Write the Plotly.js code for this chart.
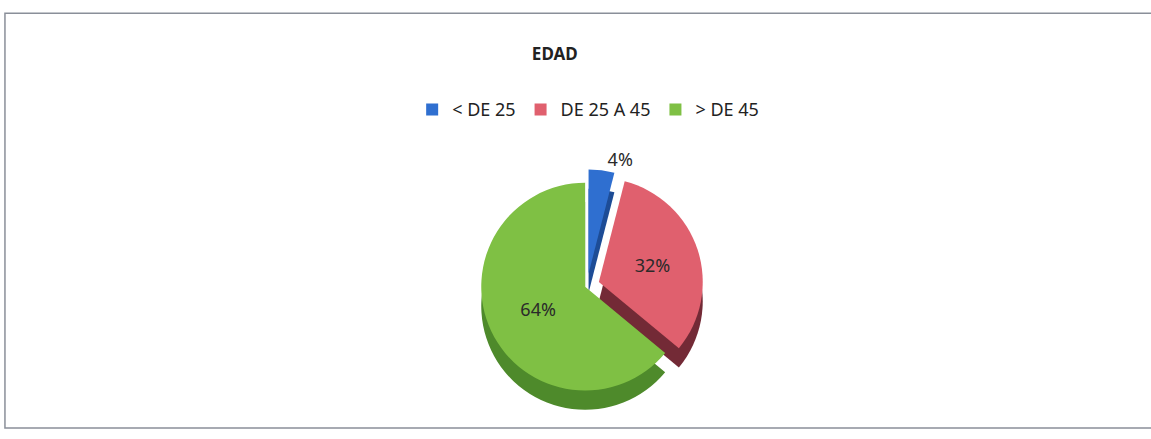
<!DOCTYPE html>
<html>
<head>
<meta charset="utf-8">
<script src="https://cdn.plot.ly/plotly-3.0.1.min.js"></script>
<style>html,body{margin:0;padding:0;background:#fff;}#chart{width:1151px;height:439px;}</style>
</head>
<body>
<div id="chart"></div>
<script>
var categories = ['< DE 25', 'DE 25 A 45', '> DE 45'];
var values = [4, 32, 64];
var topColors = ['#2f6fd0', '#e0606e', '#7fc044'];
var sideColors = ['#1d4c96', '#732a36', '#4e8a2b'];
var pulls = [0.12, 0.12, 0.02];

var fontFam = '"Noto Sans", "Open Sans", sans-serif';

var sideTrace = {
  type: 'pie', labels: categories, values: values, sort: false,
  direction: 'clockwise', rotation: 0, pull: pulls,
  marker: {colors: sideColors, line: {width: 0}},
  textinfo: 'none', hoverinfo: 'skip', showlegend: false,
  domain: {x: [0.02, 1], y: [0.040, 0.570]}
};
var topTrace = {
  type: 'pie', labels: categories, values: values, sort: false,
  direction: 'clockwise', rotation: 0, pull: pulls,
  marker: {colors: topColors, line: {width: 0}},
  textinfo: 'percent', texttemplate: '%{percent:.0%}',
  textposition: ['outside', 'inside', 'inside'],
  insidetextorientation: 'horizontal',
  textfont: {family: fontFam, size: 18, color: '#2a2a2a'},
  outsidetextfont: {family: fontFam, size: 18, color: '#2a2a2a'},
  domain: {x: [0.02, 1], y: [0.084, 0.614]}
};

var layout = {
  width: 1151, height: 439,
  margin: {l: 0, r: 0, t: 0, b: 0},
  paper_bgcolor: '#ffffff',
  title: {text: '<b>EDAD</b>', x: 0.482, xanchor: 'center', y: 0.877, yanchor: 'middle',
          font: {family: fontFam, size: 17, color: '#222'}},
  legend: {orientation: 'h', x: 0.511, xanchor: 'center', y: 0.75, yanchor: 'middle',
           font: {family: fontFam, size: 18, color: '#222'}, traceorder: 'normal',
           itemwidth: 30},
  shapes: [{type: 'rect', xref: 'paper', yref: 'paper', x0: 0.0043, x1: 1.01, y0: 0.025, y1: 0.970,
            line: {color: '#8a8f99', width: 1.5}}]
};

Plotly.newPlot('chart', [sideTrace, topTrace], layout, {staticPlot: true});
</script>
</body>
</html>
